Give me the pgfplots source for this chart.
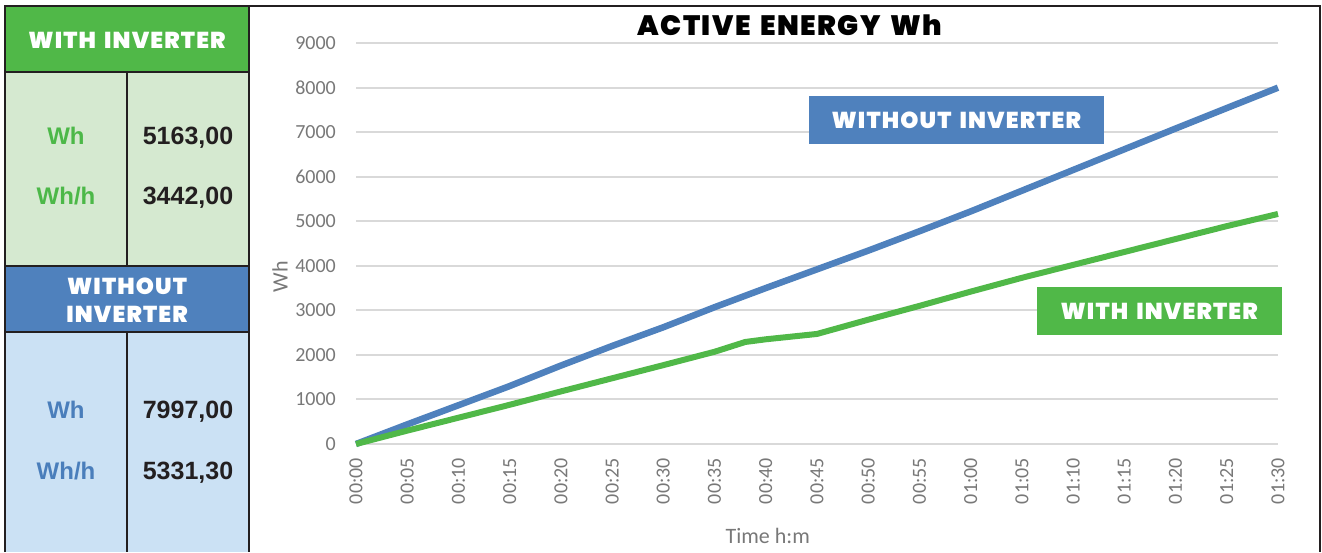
\documentclass[border=0pt]{standalone}
\usepackage{fontspec}
\usepackage{pgfplots}
\pgfplotsset{compat=1.18}
\setmainfont{Carlito}
\newfontfamily\libs{Liberation Sans}
\IfFontExistsTF{Poppins Black}{\newfontfamily\heavy{Poppins Black}[LetterSpace=5,WordSpace=1.6]}{%
  \IfFontExistsTF{Poppins ExtraBold}{\newfontfamily\heavy{Poppins ExtraBold}[LetterSpace=5,WordSpace=1.6]}{%
    \newfontfamily\heavy{Poppins}[FakeBold=2,LetterSpace=5,WordSpace=1.6]}}
\definecolor{gh}{RGB}{80,184,72}
\definecolor{lg}{RGB}{213,233,208}
\definecolor{bh}{RGB}{79,129,189}
\definecolor{lb}{RGB}{203,225,244}
\definecolor{bdr}{RGB}{35,31,32}
\definecolor{tk}{RGB}{120,120,120}
\definecolor{grd}{RGB}{217,217,217}
\definecolor{gt}{RGB}{76,184,72}
\definecolor{bt}{RGB}{74,126,187}
\definecolor{sblue}{RGB}{79,129,189}
\definecolor{sgreen}{RGB}{80,184,72}

\pgfplotstableread{
t   wh
0   0
5   440
10  870
15  1300
20  1760
25  2200
30  2620
35  3070
40  3500
45  3920
50  4340
55  4775
60  5220
65  5685
70  6150
75  6615
80  7080
85  7540
90  7997
}\without

\pgfplotstableread{
t   wh
0   0
5   300
10  590
15  880
20  1180
25  1475
30  1770
35  2070
38  2290
40  2350
45  2470
50  2790
55  3100
60  3420
65  3730
70  4020
75  4310
80  4600
85  4890
90  5163
}\withinv

\begin{document}
\begin{tikzpicture}[x=1pt,y=1pt]
\useasboundingbox (0,0) rectangle (1322,552);
% left table
\fill[gh] (5,546) rectangle (249,480);
\fill[lg] (5,480) rectangle (249,286);
\fill[bh] (5,286) rectangle (249,220);
\fill[lb] (5,220) rectangle (249,0);
\begin{scope}[bdr, line width=2.5pt]
\draw (5,0) -- (5,546) -- (1320,546) -- (1320,0);
\draw (249,546) -- (249,0);
\draw (5,480) -- (249,480);
\draw (5,286) -- (249,286);
\draw (5,220) -- (249,220);
\draw (127,480) -- (127,286);
\draw (127,220) -- (127,0);
\end{scope}
\node[white, anchor=base, inner sep=0] at (127,503.4) {\heavy\fontsize{23}{23}\selectfont WITH INVERTER};
\node[white, anchor=base, inner sep=0] at (127,257) {\heavy\fontsize{23}{23}\selectfont WITHOUT};
\node[white, anchor=base, inner sep=0] at (127,229) {\heavy\fontsize{23}{23}\selectfont INVERTER};
\node[gt, anchor=base, inner sep=0] at (66,407) {\libs\bfseries\fontsize{24}{24}\selectfont Wh};
\node[gt, anchor=base, inner sep=0] at (66,347) {\libs\bfseries\fontsize{24}{24}\selectfont Wh/h};
\node[bdr, anchor=base, inner sep=0] at (188,407) {\libs\bfseries\fontsize{25}{25}\selectfont 5163,00};
\node[bdr, anchor=base, inner sep=0] at (188,347) {\libs\bfseries\fontsize{25}{25}\selectfont 3442,00};
\node[bt, anchor=base, inner sep=0] at (66,134) {\libs\bfseries\fontsize{24}{24}\selectfont Wh};
\node[bt, anchor=base, inner sep=0] at (66,73) {\libs\bfseries\fontsize{24}{24}\selectfont Wh/h};
\node[bdr, anchor=base, inner sep=0] at (188,134) {\libs\bfseries\fontsize{25}{25}\selectfont 7997,00};
\node[bdr, anchor=base, inner sep=0] at (188,73) {\libs\bfseries\fontsize{25}{25}\selectfont 5331,30};

\begin{axis}[
  at={(356pt,108pt)}, anchor=south west,
  scale only axis, width=922pt, height=401pt,
  xmin=0, xmax=90, ymin=0, ymax=9000,
  axis line style={draw=none},
  tick style={draw=none},
  ymajorgrids, grid style={grd, line width=2pt},
  clip=false,
  xtick={0,5,...,90},
  xticklabels={00:00,00:05,00:10,00:15,00:20,00:25,00:30,00:35,00:40,00:45,00:50,00:55,01:00,01:05,01:10,01:15,01:20,01:25,01:30},
  ytick={0,1000,...,9000},
  yticklabels={0,1000,2000,3000,4000,5000,6000,7000,8000,9000},
  scaled y ticks=false,
  ticklabel style={font=\fontsize{20}{20}\selectfont, text=tk, inner sep=0pt},
  xticklabel style={yshift=-14pt, rotate=90, anchor=east},
  yticklabel style={xshift=-20pt, anchor=east},
  title={\heavy\fontsize{28}{28}\selectfont ACTIVE ENERGY Wh},
  title style={at={(axis description cs:0.4707,1)}, anchor=base, yshift=2pt, inner sep=0pt},
  xlabel={Time h:m},
  xlabel style={at={(axis description cs:0.4466,0)}, anchor=base, yshift=-99pt, inner sep=0pt, text=tk, font=\fontsize{22}{22}\selectfont},
  ylabel={Wh},
  ylabel style={at={(axis description cs:-0.0824,0.4165)}, anchor=center, rotate=0, inner sep=0pt, text=tk, font=\fontsize{22}{22}\selectfont},
]
\addplot[sblue, line width=6.5pt, line join=round] table[x=t,y=wh] {\without};
\addplot[sgreen, line width=6pt, line join=round] table[x=t,y=wh] {\withinv};
\node[fill=bh, text=white, minimum width=295pt, minimum height=48pt, inner sep=0pt] at (axis cs:58.6,7271) {\heavy\fontsize{23}{23}\selectfont WITHOUT INVERTER};
\node[fill=gh, text=white, minimum width=245pt, minimum height=48pt, inner sep=0pt] at (axis cs:78.4,2985) {\heavy\fontsize{23}{23}\selectfont WITH INVERTER};
\end{axis}
\end{tikzpicture}
\end{document}
